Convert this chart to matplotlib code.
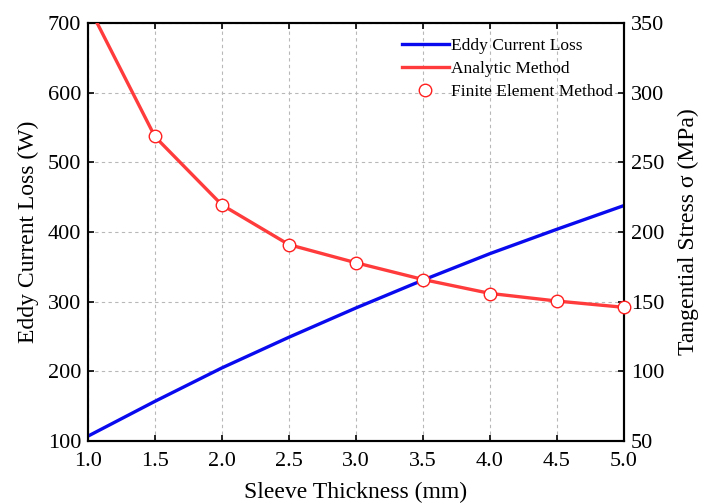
import matplotlib

matplotlib.use("Agg")
import matplotlib.pyplot as plt
from matplotlib.lines import Line2D

# sleeve thickness (mm)
thickness = [1.0, 1.5, 2.0, 2.5, 3.0, 3.5, 4.0, 4.5, 5.0]
# eddy current loss (W), left axis
eddy_loss = [107, 157, 205, 249, 291, 331, 369, 404, 438]
# tangential stress (MPa), right axis
analytic_stress = [363, 268.5, 219.5, 191, 178, 166, 156, 150.5, 146]
fem_thickness = [1.5, 2.0, 2.5, 3.0, 3.5, 4.0, 4.5, 5.0]
fem_stress = [268.8, 219.3, 190.6, 177.7, 165.5, 155.5, 150.4, 146]

plt.rcParams["font.family"] = ["Liberation Serif", "DejaVu Serif"]

fig, ax = plt.subplots(figsize=(7.04, 5.04), dpi=100)
fig.subplots_adjust(left=0.125, right=0.886, top=0.954, bottom=0.125)
ax2 = ax.twinx()

ax.plot(thickness, eddy_loss, color="#0a0aef", linewidth=2.4, zorder=3)
ax2.plot(thickness, analytic_stress, color="#ff3b3b", linewidth=2.4, zorder=3)
ax2.plot(fem_thickness, fem_stress, linestyle="none", marker="o", markersize=9,
         markerfacecolor="white", markeredgecolor="#ff2020", markeredgewidth=1.0,
         zorder=4, clip_on=False)

ax.set_xlim(1.0, 5.0)
ax.set_ylim(100, 700)
ax2.set_ylim(50, 350)
ax.set_xticks(thickness)
ax.set_xticklabels([f"{t:.1f}" for t in thickness])
ax.set_yticks(range(100, 701, 100))
ax2.set_yticks(range(50, 351, 50))

ax.grid(True, linestyle=(0, (3, 3)), color="#b8b8b8", linewidth=0.8)
ax.tick_params(direction="in", top=True, labelsize=16, length=4, width=1.2)
ax.tick_params(axis="x", pad=8)
ax.tick_params(axis="y", pad=5)
ax2.tick_params(direction="in", labelsize=16, length=4, width=1.2, pad=5)
for a in (ax, ax2):
    for s in a.spines.values():
        s.set_linewidth(1.5)

ax.set_xlabel("Sleeve Thickness (mm)", fontsize=17, labelpad=8)
ax.set_ylabel("Eddy Current Loss (W)", fontsize=17, labelpad=6)
ax2.set_ylabel("Tangential Stress σ (MPa)", fontsize=17, labelpad=10)

handles = [
    Line2D([], [], color="#0a0aef", linewidth=2.4),
    Line2D([], [], color="#ff3b3b", linewidth=2.4),
    Line2D([], [], linestyle="none", marker="o", markersize=9,
           markerfacecolor="white", markeredgecolor="#ff2020"),
]
labels = ["Eddy Current Loss", "Analytic Method", "Finite Element Method"]
ax2.legend(handles, labels, loc="upper right", bbox_to_anchor=(1.0, 0.99),
           frameon=False, fontsize=12.5, handlelength=2.7, handletextpad=0.15,
           labelspacing=0.4, borderaxespad=0.2)

fig.savefig("out.png", dpi=100)
